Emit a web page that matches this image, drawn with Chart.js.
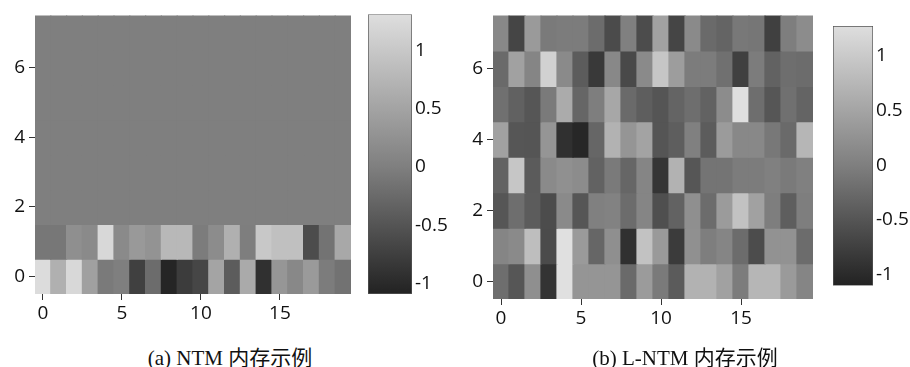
<!DOCTYPE html>
<html>
<head>
<meta charset="utf-8">
<script src="https://cdn.jsdelivr.net/npm/chart.js@4.4.0/dist/chart.umd.min.js"></script>
<style>
body{margin:0;background:#fff;width:910px;height:367px;position:relative;overflow:hidden;}
canvas{position:absolute;top:0;}
.cap{position:absolute;top:341px;font-family:"Liberation Serif",serif;font-size:21px;color:#111;white-space:nowrap;transform:translateX(-50%);}
.cap span{font-family:"Noto Sans CJK SC",sans-serif;font-size:21px;}
</style>
</head>
<body>
<canvas id="heatA" width="352" height="330" style="left:0px"></canvas>
<canvas id="barA" width="90" height="310" style="left:367px"></canvas>
<canvas id="heatB" width="359" height="335" style="left:455px"></canvas>
<canvas id="barB" width="78" height="300" style="left:832px"></canvas>
<div class="cap" style="left:230px">(a) NTM <span>内存示例</span></div>
<div class="cap" style="left:685px">(b) L-NTM <span>内存示例</span></div>
<script>
//tick labels
var xTicks=[0,5,10,15];
var yTicks=[0,2,4,6];
var cbTicks=[-1,-0.5,0,0.5,1];

//colour bar ranges (bottom, top)
var ntmRange=[-1.09,1.31];
var lntmRange=[-1.10,1.27];

//(a) NTM memory, row 0 at the bottom, only two rows are used
var ntm0=[1.28,0.68,1.23,0.46,-0.06,0,-0.74,-0.22,-1.05,-0.79,-0.67,0.51,-0.41,0.59,-0.93,0.32,0.12,0.37,-0.04,-0.15];
var ntm1=[-0.09,-0.09,0.22,0.15,1.23,0.15,0.36,0.28,0.79,0.79,-0.04,0.18,0.68,-0.01,1.01,0.90,0.90,-0.60,-0.14,0.57];
var ntm2=[0,0,0,0,0,0,0,0,0,0,0,0,0,0,0,0,0,0,0,0];
var ntm3=[0,0,0,0,0,0,0,0,0,0,0,0,0,0,0,0,0,0,0,0];
var ntm4=[0,0,0,0,0,0,0,0,0,0,0,0,0,0,0,0,0,0,0,0];
var ntm5=[0,0,0,0,0,0,0,0,0,0,0,0,0,0,0,0,0,0,0,0];
var ntm6=[0,0,0,0,0,0,0,0,0,0,0,0,0,0,0,0,0,0,0,0];
var ntm7=[0,0,0,0,0,0,0,0,0,0,0,0,0,0,0,0,0,0,0,0];

//(b) L-NTM memory
var lntm0=[-0.20,-0.49,0.21,-0.90,1.30,0.30,0.30,0.30,-0.25,0.37,-0.06,-0.43,0.68,0.68,0.46,-0.04,0.73,0.73,0.36,0.08];
var lntm1=[0.08,0.15,0.84,-0.62,1.30,0.36,-0.29,0.21,-0.93,0.90,0.36,-0.81,0.23,-0.01,0.08,-0.22,-0.60,0.26,0.26,-0.22];
var lntm2=[-0.49,-0.20,-0.41,-0.60,0.15,-0.49,0.01,0.04,-0.22,0.08,-0.57,-0.34,0.21,-0.22,0.37,0.90,0.46,-0.01,-0.39,-0.01];
var lntm3=[-0.34,0.95,-0.43,0.15,0.23,0.18,-0.34,-0.06,-0.29,0.08,-0.87,0.68,-0.49,-0.13,-0.13,-0.04,-0.04,0.01,-0.06,0.01];
var lntm4=[0.46,-0.49,-0.50,0.30,-0.93,-1.04,-0.29,0.68,0.30,0.48,-0.50,-0.39,0.01,-0.41,0.37,0.12,0.12,-0.08,-0.25,0.73];
var lntm5=[-0.18,-0.36,-0.49,-0.06,0.59,-0.29,-0.01,0.54,-0.25,-0.39,-0.50,-0.32,-0.20,-0.34,0.18,1.28,-0.20,-0.49,-0.18,-0.32];
var lntm6=[-0.25,0.46,0.08,1.10,0.15,-0.41,-0.83,0.12,-0.64,0.15,0.95,0.40,-0.04,-0.04,-0.18,-0.74,-0.04,-0.34,-0.20,-0.22];
var lntm7=[0.12,-0.69,0.36,-0.06,-0.04,-0.04,-0.22,-0.62,0.01,-0.60,0.46,-0.69,0.15,-0.25,-0.32,-0.08,-0.11,-0.74,-0.01,0.18];

var tickFont={family:'Open Sans', size:19};
var textCol='#111';

//grey colormap, dark at the bottom of the range, light at the top
function grayOf(v, range){
  var g;
  if (v<0) g=127-(v/range[0])*93;
  else g=127+(v/range[1])*95;
  g=Math.round(Math.max(0,Math.min(255,g)));
  return 'rgb('+g+','+g+','+g+')';
}

function fixedTicks(list){
  return function(s){ s.ticks=list.map(function(v){return {value:v};}); };
}

function makeHeat(id, rows, range, axisW, padTop){
  var pts=[], cols=[];
  rows.forEach(function(row, r){
    row.forEach(function(v, c){
      pts.push({x:c, y:[r-0.5, r+0.5]});
      cols.push(grayOf(v, range));
    });
  });
  return new Chart(document.getElementById(id), {
    type:'bar',
    data:{datasets:[{data:pts, backgroundColor:cols, borderWidth:0, barPercentage:1, categoryPercentage:1, inflateAmount:0.6}]},
    options:{
      responsive:false, animation:false,
      layout:{padding:{top:padTop, right:1, left:0, bottom:0}},
      plugins:{legend:{display:false}, tooltip:{enabled:false}},
      scales:{
        x:{type:'linear', min:-0.5, max:rows[0].length-0.5, offset:false,
           afterBuildTicks:fixedTicks(xTicks),
           afterFit:function(s){ s.height=36; },
           grid:{offset:false, drawOnChartArea:false, tickLength:6, color:'#333'},
           border:{display:false},
           ticks:{font:tickFont, color:textCol, padding:2, maxRotation:0}},
        y:{type:'linear', min:-0.5, max:rows.length-0.5,
           afterBuildTicks:fixedTicks(yTicks),
           afterFit:function(s){ s.width=axisW; },
           grid:{drawOnChartArea:false, tickLength:6, color:'#333'},
           border:{display:false},
           ticks:{font:tickFont, color:textCol, padding:4}}
      }
    }
  });
}

function makeColorBar(id, range, axisW, padTop, padBottom){
  return new Chart(document.getElementById(id), {
    type:'bar',
    data:{labels:[''], datasets:[{
      data:[range],
      backgroundColor:function(ctx){
        var ch=ctx.chart, y=ch.scales.y;
        if (!ch.chartArea || !y) return '#808080';
        var g=ch.ctx.createLinearGradient(0, y.getPixelForValue(range[0]), 0, y.getPixelForValue(range[1]));
        g.addColorStop(0, grayOf(range[0], range));
        g.addColorStop(-range[0]/(range[1]-range[0]), grayOf(0, range));
        g.addColorStop(1, grayOf(range[1], range));
        return g;
      },
      borderColor:'#555', borderWidth:1, borderSkipped:false,
      barPercentage:1, categoryPercentage:1}]},
    options:{
      responsive:false, animation:false,
      layout:{padding:{top:padTop, left:1, right:0, bottom:padBottom}},
      plugins:{legend:{display:false}, tooltip:{enabled:false}},
      scales:{
        x:{display:false},
        y:{position:'right', min:range[0], max:range[1],
           afterBuildTicks:fixedTicks(cbTicks),
           afterFit:function(s){ s.width=axisW; },
           grid:{display:false, drawTicks:false}, border:{display:false},
           ticks:{font:tickFont, color:textCol, padding:3,
                  callback:function(v){ return String(v); }}}
      }
    }
  });
}

makeHeat('heatA', [ntm0,ntm1,ntm2,ntm3,ntm4,ntm5,ntm6,ntm7], ntmRange, 35, 8);
makeHeat('heatB', [lntm0,lntm1,lntm2,lntm3,lntm4,lntm5,lntm6,lntm7], lntmRange, 38, 13);
makeColorBar('barA', ntmRange, 45, 14, 16);
makeColorBar('barB', lntmRange, 37, 26, 14);
</script>
</body>
</html>
